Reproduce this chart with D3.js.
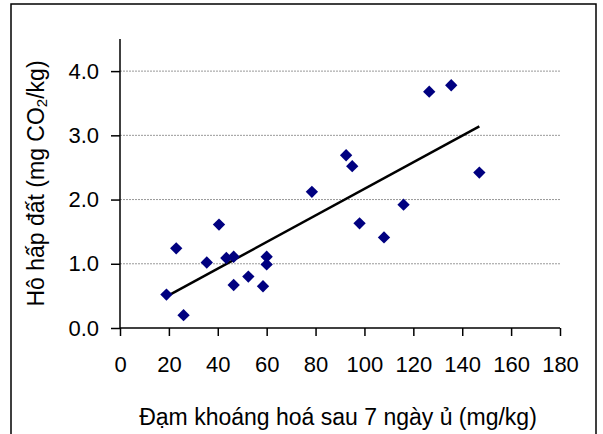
<!DOCTYPE html>
<html lang="vi">
<head>
    <meta charset="UTF-8">
    <title>Hô hấp đất vs đạm khoáng hoá</title>
    <style>
        body { margin: 0; background: #fff; }
        svg text { font-family: Arial, "Liberation Sans", sans-serif; fill: #000; }
    </style>
</head>
<body>
    <div id="chart"></div>

    <script src="https://d3js.org/d3.v7.min.js"></script>
    <script>
        // data
        const nitrogen = [19, 23, 26, 35.5, 40.5, 43.5, 46.5, 46.5, 52.5, 58.5, 60, 60, 78.5, 92.5, 95, 98, 108, 116, 126.5, 135.5, 147];
        const respiration = [0.52, 1.24, 0.20, 1.02, 1.61, 1.09, 1.11, 0.67, 0.80, 0.65, 1.11, 0.99, 2.12, 2.69, 2.52, 1.63, 1.41, 1.92, 3.68, 3.78, 2.42];
        const trendX = [19.5, 147];
        const trendY = [0.50, 3.14];
        const xTicks = [0, 20, 40, 60, 80, 100, 120, 140, 160, 180];
        const yTicks = [0, 1, 2, 3, 4];

        const w = 603;
        const h = 434;
        const mLeft = 120, mRight = 560, mTop = 39, mBottom = 328;

        const x = d3.scaleLinear().domain([0, 180]).range([mLeft, mRight]);
        const y = d3.scaleLinear().domain([0, 4.5]).range([mBottom, mTop]);

        const svg = d3.select('#chart')
            .append('svg')
            .attr('width', w)
            .attr('height', h);

        // outer frame
        svg.append('rect')
            .attr('x', 11).attr('y', 4)
            .attr('width', 585).attr('height', 450)
            .attr('fill', 'none')
            .attr('stroke', '#000')
            .attr('stroke-width', 1.5);

        // gridlines
        svg.append('g')
            .selectAll('line')
            .data(yTicks.filter(d => d > 0))
            .enter()
            .append('line')
            .attr('x1', mLeft).attr('x2', mRight)
            .attr('y1', d => y(d)).attr('y2', d => y(d))
            .attr('stroke', '#999')
            .attr('stroke-dasharray', '2,1');

        const yAxis = d3.axisLeft(y)
            .tickValues(yTicks)
            .tickFormat(d3.format('.1f'))
            .tickSize(9)
            .tickPadding(12);
        const xAxis = d3.axisBottom(x)
            .tickValues(xTicks)
            .tickSize(8)
            .tickPadding(20);

        const gy = svg.append('g')
            .attr('transform', `translate(${mLeft},0)`)
            .call(yAxis);
        const gx = svg.append('g')
            .attr('transform', `translate(0,${mBottom})`)
            .call(xAxis);

        [gx, gy].forEach(g => {
            g.select('.domain').attr('stroke', '#000').attr('stroke-width', 1.5);
            g.selectAll('.tick line').attr('stroke', '#000').attr('stroke-width', 1.5);
            g.selectAll('.tick text')
                .style('font-size', '22px')
                .attr('fill', '#000');
        });
        // plain axis lines, no end stubs
        gy.select('.domain').attr('d', `M0,${mTop}V${mBottom}`);
        gx.select('.domain').attr('d', `M${mLeft},0H${mRight}`);

        // trend line
        svg.append('line')
            .attr('x1', x(trendX[0])).attr('y1', y(trendY[0]))
            .attr('x2', x(trendX[1])).attr('y2', y(trendY[1]))
            .attr('stroke', '#000')
            .attr('stroke-width', 2.5);

        // points
        const diamond = d3.symbol(d3.symbolSquare, 76);
        svg.append('g')
            .selectAll('path')
            .data(nitrogen.map((n, i) => [n, respiration[i]]))
            .enter()
            .append('path')
            .attr('d', diamond)
            .attr('transform', d => `translate(${x(d[0])},${y(d[1])}) rotate(45)`)
            .attr('fill', '#000080');

        // axis titles
        svg.append('text')
            .attr('x', 338)
            .attr('y', 425)
            .attr('text-anchor', 'middle')
            .style('font-size', '23px')
            .text('Đạm khoáng hoá sau 7 ngày ủ (mg/kg)');

        const yt = svg.append('text')
            .attr('transform', `translate(44,${(mTop + mBottom) / 2}) rotate(-90)`)
            .attr('text-anchor', 'middle')
            .style('font-size', '23px');
        yt.append('tspan').text('Hô hấp đất (mg CO');
        yt.append('tspan').attr('dy', 3).style('font-size', '15px').text('2');
        yt.append('tspan').attr('dy', -3).text('/kg)');
    </script>
</body>
</html>
